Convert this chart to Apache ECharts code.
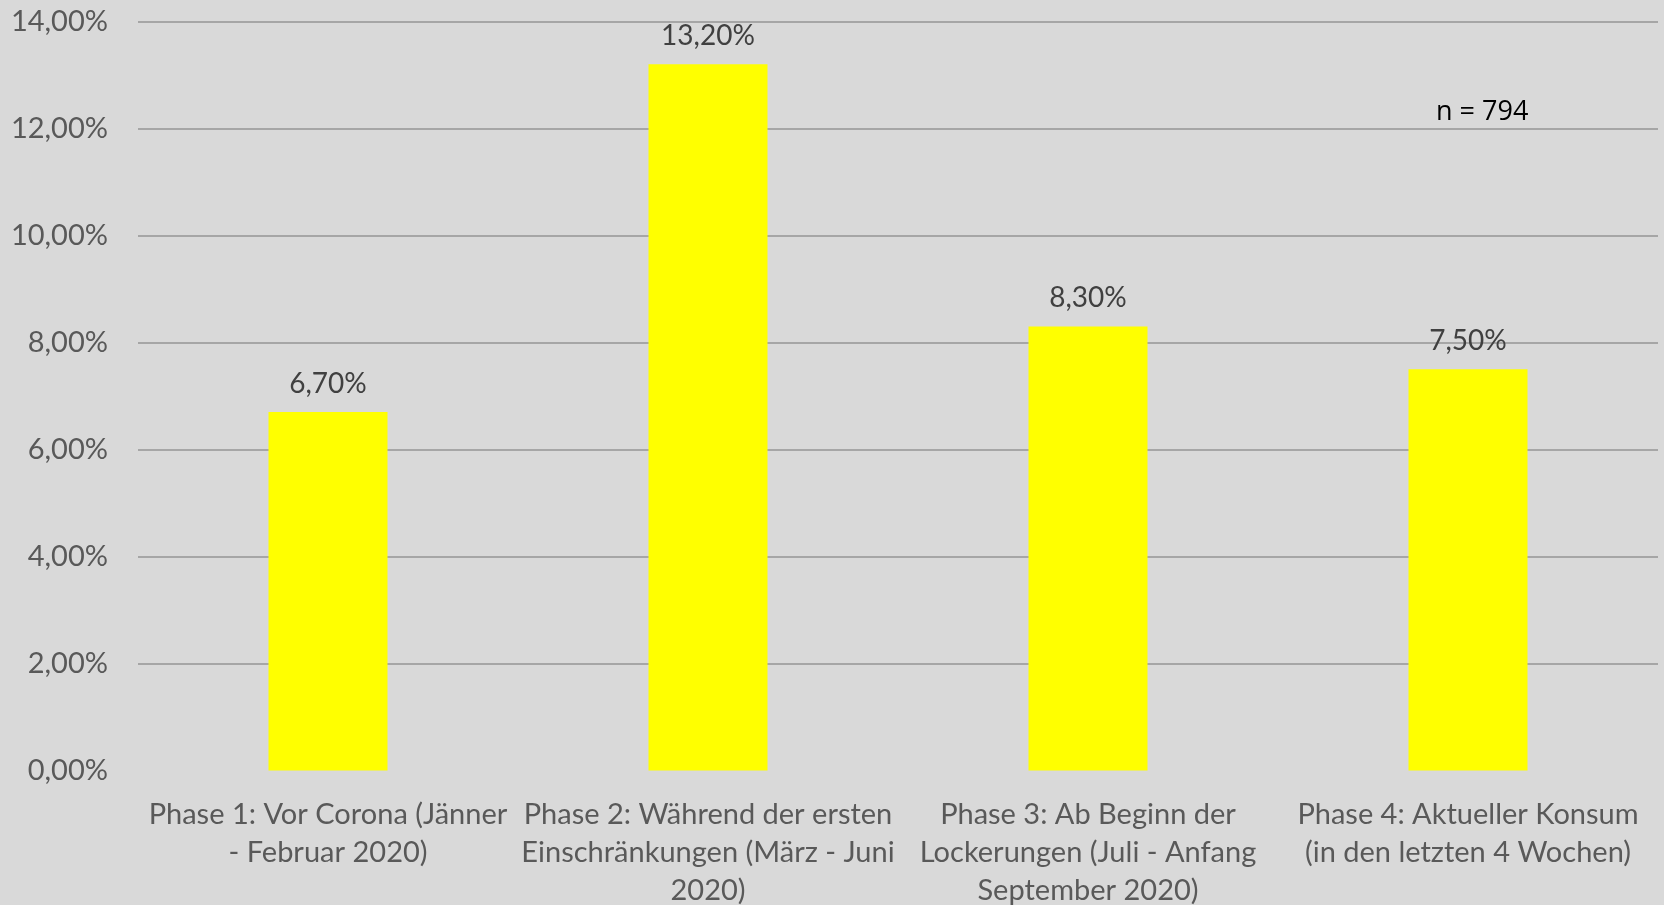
<!DOCTYPE html>
<html>
<head>
<meta charset="utf-8">
<script src="https://cdn.jsdelivr.net/npm/echarts@6/dist/echarts.min.js"></script>
<style>
  html, body { margin: 0; padding: 0; background: #d9d9d9; }
  #chart { width: 1664px; height: 905px; }
</style>
</head>
<body>
<div id="chart"></div>
<script>
// Phasen (Kategorien) und Anteile in %
const phases = [
  'Phase 1: Vor Corona (Jänner\n- Februar 2020)',
  'Phase 2: Während der ersten\nEinschränkungen (März - Juni\n2020)',
  'Phase 3: Ab Beginn der\nLockerungen (Juli - Anfang\nSeptember 2020)',
  'Phase 4: Aktueller Konsum\n(in den letzten 4 Wochen)',
];
const shares = [6.7, 13.2, 8.3, 7.5];
const sampleNote = 'n = 794';

const pct = (v) => v.toFixed(2).replace('.', ',') + '%';

const chart = echarts.init(document.getElementById('chart'), null, { renderer: 'canvas' });

chart.setOption({
  backgroundColor: '#d9d9d9',
  animation: false,
  textStyle: { fontFamily: 'Lato, sans-serif' },
  // labels run to the bottom edge, so don't let the grid shrink to fit them
  grid: { left: 138, right: 6, top: 21.5, bottom: 134.5, containLabel: false, outerBoundsMode: 'none' },
  xAxis: {
    type: 'category',
    data: phases,
    axisLine: { show: false },
    axisTick: { show: false },
    axisLabel: {
      interval: 0,
      color: '#595959',
      fontSize: 29,
      lineHeight: 38,
      margin: 25,
      fontFamily: 'Lato, sans-serif',
    },
  },
  yAxis: {
    type: 'value',
    min: 0,
    max: 14,
    interval: 2,
    axisLine: { show: false },
    axisTick: { show: false },
    axisLabel: {
      color: '#595959',
      fontSize: 29,
      margin: 30,
      formatter: pct,
    },
    splitLine: { show: true, showMinLine: false, lineStyle: { color: '#a6a6a6', width: 2 } },
  },
  series: [{
    type: 'bar',
    data: shares,
    barWidth: 119,
    itemStyle: { color: '#ffff00' },
    label: {
      show: true,
      position: 'top',
      distance: 14,
      color: '#404040',
      fontSize: 28,
      formatter: (p) => pct(p.value),
    },
  }],
  graphic: [{
    type: 'text',
    left: 1436,
    top: 99,
    style: { text: sampleNote, fill: '#000', font: '27px "Open Sans", sans-serif' },
  }],
});
</script>
</body>
</html>
